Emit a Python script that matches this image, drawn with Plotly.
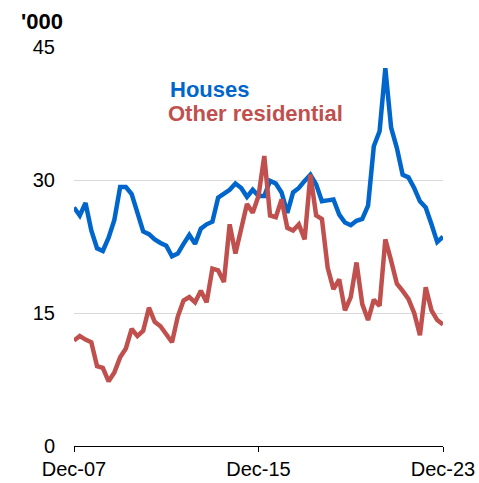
import plotly.graph_objects as go

# Quarterly, Dec-07 .. Dec-23 (65 quarters), '000
quarters = list(range(65))
tick_pos = [0, 32, 64]
tick_labels = ["Dec-07", "Dec-15", "Dec-23"]

houses = [26.9, 26.0, 27.4, 24.3, 22.3, 22.0, 23.5, 25.5, 29.2, 29.2,
          28.4, 26.4, 24.2, 23.9, 23.3, 22.9, 22.6, 21.4, 21.7, 22.8,
          23.8, 22.8, 24.5, 25.0, 25.3, 28.0, 28.4, 28.9, 29.6, 29.1,
          28.1, 28.9, 28.2, 28.2, 29.9, 29.6, 28.6, 26.3, 28.6, 29.1,
          29.9, 30.6, 29.5, 27.6, 27.7, 27.8, 26.1, 25.2, 24.9, 25.4,
          25.6, 27.1, 33.8, 35.5, 42.6, 35.9, 33.6, 30.6, 30.3, 29.1,
          27.6, 26.9, 25.0, 23.0, 23.6]

other_residential = [11.9, 12.4, 12.0, 11.7, 9.0, 8.8, 7.3, 8.3, 10.0, 11.0,
                     13.2, 12.4, 13.0, 15.6, 14.0, 13.5, 12.6, 11.7, 14.6, 16.4,
                     16.8, 16.2, 17.5, 16.2, 20.0, 19.8, 18.5, 25.0, 21.7, 24.6,
                     27.3, 26.3, 28.2, 32.7, 26.0, 25.8, 27.8, 24.6, 24.3, 25.0,
                     23.3, 30.6, 26.0, 25.6, 20.1, 17.7, 18.8, 15.3, 16.8, 20.7,
                     16.0, 14.2, 16.5, 15.8, 23.3, 20.9, 18.3, 17.5, 16.6, 15.0,
                     12.5, 17.9, 15.3, 14.2, 13.7]

y_ticks = [0, 15, 30, 45]

BLUE = "#0066cc"
RED = "#c0504d"
FONT = "Liberation Sans, Arial, sans-serif"

fig = go.Figure()
fig.add_trace(go.Scatter(x=quarters, y=houses, mode="lines", name="Houses",
                         line=dict(color=BLUE, width=4.5)))
fig.add_trace(go.Scatter(x=quarters, y=other_residential, mode="lines",
                         name="Other residential",
                         line=dict(color=RED, width=4.5)))

fig.update_layout(
    width=479, height=483,
    margin=dict(l=74, r=36, t=47, b=37),
    paper_bgcolor="white", plot_bgcolor="white",
    showlegend=False,
    font=dict(family=FONT, size=20, color="black"),
    xaxis=dict(range=[0, 64], tickvals=tick_pos, ticktext=tick_labels,
               showgrid=False, zeroline=False, showline=True,
               linecolor="black", linewidth=1, ticks="outside",
               ticklen=5, tickcolor="black", tickwidth=1,
               tickfont=dict(size=20), automargin=False),
    yaxis=dict(range=[0, 45], tickvals=y_ticks, showgrid=True,
               gridcolor="#d9d9d9", gridwidth=1, zeroline=False,
               showline=False, ticks="", ticklabelstandoff=18,
               tickfont=dict(size=20), automargin=False),
    annotations=[
        dict(text="<b>'000</b>", xref="paper", yref="paper",
             x=-0.087, y=1.063, xanchor="center", yanchor="middle",
             showarrow=False, font=dict(size=22, color="black")),
        dict(text="<b>Houses</b>", xref="paper", yref="paper",
             x=0.257, y=0.894, xanchor="left", yanchor="middle",
             showarrow=False, borderpad=0, font=dict(size=22, color=BLUE)),
        dict(text="<b>Other residential</b>", xref="paper", yref="paper",
             x=0.251, y=0.834, xanchor="left", yanchor="middle",
             showarrow=False, borderpad=0, font=dict(size=22, color=RED)),
    ],
)

fig.write_html("out.html",
               config={"displayModeBar": False},
               post_script="document.body.style.margin='0';")
